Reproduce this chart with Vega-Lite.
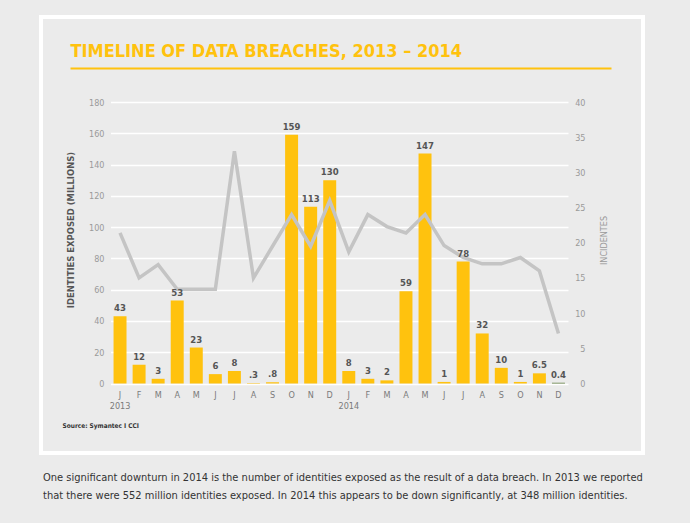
{
  "$schema": "https://vega.github.io/schema/vega-lite/v6.json",
  "width": 602,
  "height": 436,
  "autosize": {"type": "none"},
  "padding": {"left": 41, "top": 17, "right": 47, "bottom": 70},
  "background": "#ebebeb",
  "config": {
    "view": {"stroke": "#ffffff", "strokeWidth": 4, "fill": null},
    "font": "Liberation Sans Narrow, DejaVu Sans Condensed, sans-serif"
  },
  "title": {
    "text": [
      "One significant downturn in 2014 is the number of identities exposed as the result of a data breach. In 2013 we reported",
      "that there were 552 million identities exposed. In 2014 this appears to be down significantly, at 348 million identities."
    ],
    "orient": "bottom",
    "anchor": "start",
    "frame": "group",
    "offset": 19,
    "dx": 2,
    "fontSize": 11,
    "fontWeight": "normal",
    "color": "#333333",
    "lineHeight": 18
  },
  "layer": [
    {
      "data": {
        "values": [
          {"m": "2013-01", "ids": 43, "label": "43", "inc": 21.4},
          {"m": "2013-02", "ids": 12, "label": "12", "inc": 15},
          {"m": "2013-03", "ids": 3, "label": "3", "inc": 16.9},
          {"m": "2013-04", "ids": 53, "label": "53", "inc": 13.4},
          {"m": "2013-05", "ids": 23, "label": "23", "inc": 13.4},
          {"m": "2013-06", "ids": 6, "label": "6", "inc": 13.4},
          {"m": "2013-07", "ids": 8, "label": "8", "inc": 33},
          {"m": "2013-08", "ids": 0.3, "label": ".3", "inc": 15},
          {"m": "2013-09", "ids": 0.8, "label": ".8", "inc": 19.5},
          {"m": "2013-10", "ids": 159, "label": "159", "inc": 24},
          {"m": "2013-11", "ids": 113, "label": "113", "inc": 19.5},
          {"m": "2013-12", "ids": 130, "label": "130", "inc": 26},
          {"m": "2014-01", "ids": 8, "label": "8", "inc": 18.7},
          {"m": "2014-02", "ids": 3, "label": "3", "inc": 24},
          {"m": "2014-03", "ids": 2, "label": "2", "inc": 22.3},
          {"m": "2014-04", "ids": 59, "label": "59", "inc": 21.4},
          {"m": "2014-05", "ids": 147, "label": "147", "inc": 24},
          {"m": "2014-06", "ids": 1, "label": "1", "inc": 19.6},
          {"m": "2014-07", "ids": 78, "label": "78", "inc": 17.9},
          {"m": "2014-08", "ids": 32, "label": "32", "inc": 17},
          {"m": "2014-09", "ids": 10, "label": "10", "inc": 17},
          {"m": "2014-10", "ids": 1, "label": "1", "inc": 17.9},
          {"m": "2014-11", "ids": 6.5, "label": "6.5", "inc": 16},
          {"m": "2014-12", "ids": 0.4, "label": "0.4", "inc": 7.1}
        ]
      },
      "layer": [
        {
          "mark": {"type": "bar"},
          "encoding": {
            "x": {
              "field": "m",
              "type": "ordinal",
              "scale": {"range": [69.5, 527], "paddingInner": 0.32, "paddingOuter": 0.16},
              "axis": {
                "orient": "bottom",
                "offset": -69.5,
                "domain": false,
                "ticks": false,
                "grid": false,
                "labelAngle": 0,
                "labelPadding": 7,
                "labelBaseline": "top",
                "labelColor": "#7a7a7a",
                "labelFontSize": 9,
                "labelLineHeight": 11,
                "labelExpr": "[substring('JFMAMJJASOND', toNumber(substring(datum.value,5,7))-1, toNumber(substring(datum.value,5,7))), substring(datum.value,5,7) == '01' ? substring(datum.value,0,4) : '']",
                "title": "Source: Symantec I CCI",
                "titleX": 21,
                "titleY": 41.5,
                "titleAnchor": "start",
                "titleAlign": "left",
                "titleBaseline": "middle",
                "titleFontSize": 6.5,
                "titleFontWeight": "bold",
                "titleColor": "#333333"
              }
            },
            "y": {
              "field": "ids",
              "type": "quantitative",
              "scale": {"domain": [0, 180], "range": [366.5, 85], "nice": false},
              "axis": {
                "orient": "left",
                "offset": -69.5,
                "values": [0, 20, 40, 60, 80, 100, 120, 140, 160, 180],
                "grid": true,
                "gridColor": "#ffffff",
                "gridWidth": 1.5,
                "domain": false,
                "ticks": false,
                "labelPadding": 6.5,
                "labelColor": "#9a9a9a",
                "labelFontSize": 9,
                "title": "IDENTITIES EXPOSED (MILLIONS)",
                "titleX": -40.5,
                "titleY": 212.5,
                "titleAngle": -90,
                "titleAlign": "center",
                "titleBaseline": "middle",
                "titleFontSize": 9.4,
                "titleFontWeight": "bold",
                "titleColor": "#555555"
              }
            },
            "color": {
              "condition": {"test": "datum.m === '2014-12'", "value": "#5e7d3c"},
              "value": "#ffc20e"
            }
          }
        },
        {
          "mark": {"type": "line", "color": "#c4c4c4", "strokeWidth": 3.5},
          "encoding": {
            "x": {"field": "m", "type": "ordinal"},
            "y": {
              "field": "inc",
              "type": "quantitative",
              "scale": {"domain": [0, 40], "range": [366.5, 85], "nice": false},
              "axis": {
                "orient": "right",
                "offset": -75,
                "values": [0, 5, 10, 15, 20, 25, 30, 35, 40],
                "grid": false,
                "domain": false,
                "ticks": false,
                "labelAlign": "right",
                "labelPadding": 17,
                "labelColor": "#9a9a9a",
                "labelFontSize": 9,
                "title": "INCIDENTES",
                "titleX": 35,
                "titleY": 223,
                "titleAngle": -90,
                "titleAlign": "center",
                "titleBaseline": "middle",
                "titleFontSize": 9,
                "titleFontWeight": "normal",
                "titleColor": "#9a9a9a"
              }
            }
          }
        },
        {
          "mark": {"type": "text", "dy": -5, "baseline": "alphabetic", "fontWeight": "bold", "fontSize": 9.5, "color": "#555555"},
          "encoding": {
            "x": {"field": "m", "type": "ordinal"},
            "y": {
              "field": "ids",
              "type": "quantitative",
              "scale": {"domain": [0, 180], "range": [366.5, 85], "nice": false},
              "axis": null
            },
            "text": {"field": "label"}
          }
        }
      ],
      "resolve": {"scale": {"y": "independent"}, "axis": {"y": "independent"}}
    },
    {
      "data": {"values": []},
      "mark": {"type": "rule"},
      "encoding": {
        "x": {
          "field": "k",
          "type": "nominal",
          "scale": {"domain": ["a"], "range": [29, 570]},
          "axis": {
            "orient": "top",
            "offset": -51,
            "domainColor": "#ffc20e",
            "domainWidth": 2,
            "labels": false,
            "ticks": false,
            "grid": false,
            "title": "TIMELINE OF DATA BREACHES, 2013 – 2014",
            "titleX": 29,
            "titleY": -12,
            "titleAnchor": "start",
            "titleAlign": "left",
            "titleBaseline": "alphabetic",
            "titleFontSize": 18,
            "titleFontWeight": "bold",
            "titleColor": "#ffc20e"
          }
        }
      }
    }
  ],
  "resolve": {"scale": {"x": "independent"}, "axis": {"x": "independent"}}
}
